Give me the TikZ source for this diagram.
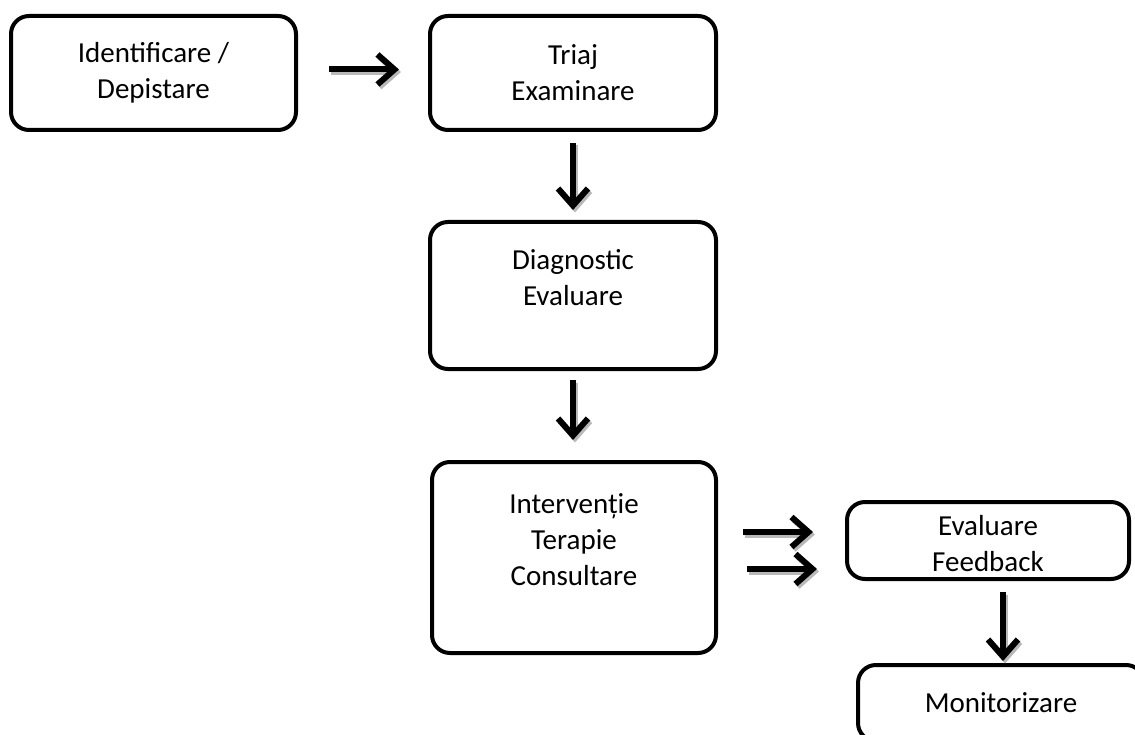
\documentclass[tikz,border=0pt]{standalone}
\usepackage{fontspec}
\setmainfont{Carlito}
\usetikzlibrary{arrows.meta}

\tikzset{
  txt/.style={align=center, font=\fontsize{29}{36}\selectfont},
  box/.style={txt, draw, line width=4pt, rounded corners=18pt},
  flow/.style={-{Straight Barb[length=17pt,width=30pt,line width=6pt,sharp]}, line width=6pt},
}

\begin{document}
\begin{tikzpicture}[x=1pt,y=-1pt]
  \clip (0,0) rectangle (1135,735);
  % boxes
  \node[box, minimum width=285pt, minimum height=114pt] (ident) at (153.5,73) {Identificare /\\Depistare};
  \node[box, minimum width=286pt, minimum height=114pt] (triaj) at (573,73) {Triaj\\Examinare};
  \node[box, minimum width=286pt, minimum height=147pt] (diag) at (573,295.5) {Diagnostic\\Evaluare\\\mbox{}};
  \node[box, minimum width=284pt, minimum height=191pt] (interv) at (574,557.5) {Intervenție\\Terapie\\Consultare\\\mbox{}};
  \node[box, minimum width=282pt, minimum height=77pt] (feedb) at (988,540.5) {};
  \node[txt] (feedb txt) at ([yshift=-3pt]feedb.center) {Evaluare\\Feedback};
  \node[box, minimum width=286pt, minimum height=76pt] (monit) at (1001,703) {Monitorizare};
  % arrows, first the grey shadow, then the black arrow
  \foreach \col/\dx/\dy in {gray!55/2/-2.5, black/0/0}{
    \begin{scope}[transform canvas={shift={(\dx pt,\dy pt)}}, flow, draw=\col]
      \draw[shorten <=31pt, shorten >=29pt] ([yshift=3.5pt]ident.east) -- ([yshift=3.5pt]triaj.west);
      \draw[shorten <=11pt, shorten >=10pt] (triaj.south) -- (diag.north);
      \draw[shorten <=9pt, shorten >=20pt] (diag.south) -- (diag.south |- interv.north);
      \draw[shorten <=25pt, shorten >=32pt] ([yshift=25.5pt]interv.east) -- ([yshift=8.5pt]feedb.west);
      \draw[shorten <=29pt, shorten >=28pt] ([yshift=-11.5pt]interv.east) -- ([yshift=-28.5pt]feedb.west);
      \draw[shorten <=11pt, shorten >=2pt] ([xshift=15pt]feedb.south) -- ([xshift=15pt]feedb.south |- monit.north);
    \end{scope}
  }
\end{tikzpicture}
\end{document}
